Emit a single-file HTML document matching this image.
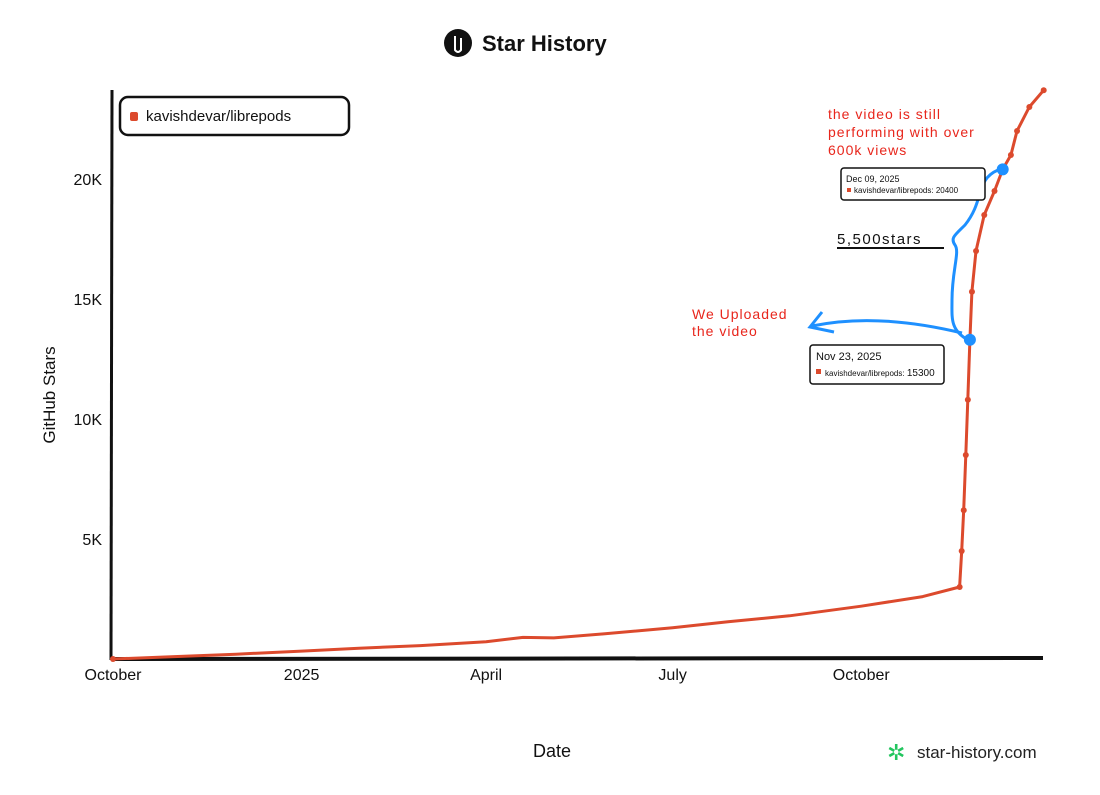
<!DOCTYPE html>
<html><head><meta charset="utf-8">
<style>
html,body{margin:0;padding:0;background:#fff;}
svg{display:block;font-family:"Liberation Sans",sans-serif;}
</style></head>
<body>
<svg id="chart" width="1100" height="795" viewBox="0 0 1100 795" xmlns="http://www.w3.org/2000/svg">
  <g>
    <circle cx="458" cy="43" r="14" fill="#111"/>
    <path d="M455 36 v14 q3 4 6 0 v-12" stroke="#fff" stroke-width="2" fill="none"/>
    <text x="482" y="51" font-size="22" font-weight="bold" fill="#111">Star History</text>
  </g>
  <g id="axes"></g>
  <g id="series"></g>
  <g>
    <rect x="120" y="97" width="229" height="38" rx="8" fill="#fff" stroke="#111" stroke-width="2.5"/>
    <rect x="130" y="112" width="8" height="9" rx="2" fill="#dc4a2d"/>
    <text x="146" y="121" font-size="15" fill="#111">kavishdevar/librepods</text>
  </g>
  <text transform="translate(55,395) rotate(-90)" text-anchor="middle" font-size="17" fill="#111">GitHub Stars</text>
  <text x="552" y="757" text-anchor="middle" font-size="18" fill="#111">Date</text>
  <g>
    <text x="887" y="760" font-size="22" fill="#22c55e">✲</text>
    <text x="917" y="758" font-size="17" fill="#222">star-history.com</text>
  </g>
  <g>
    <text x="828" y="119" font-size="14" fill="#e8261c" letter-spacing="1">the video is still</text>
    <text x="828" y="137" font-size="14" fill="#e8261c" letter-spacing="1">performing with over</text>
    <text x="828" y="155" font-size="14" fill="#e8261c" letter-spacing="1">600k views</text>
    <text x="692" y="319" font-size="14" fill="#e8261c" letter-spacing="1">We Uploaded</text>
    <text x="692" y="336" font-size="14" fill="#e8261c" letter-spacing="1">the video</text>
    <text x="837" y="244" font-size="15" fill="#111" letter-spacing="1.5">5,500stars</text>
    <line x1="837" y1="248" x2="944" y2="248" stroke="#111" stroke-width="2"/>
    <path d="M998 170 C975 180 985 200 965 225 C955 235 950 238 955 245 C960 252 952 270 952 300 C952 318 950 330 968 340" fill="none" stroke="#1e90ff" stroke-width="3"/>
    <path d="M962 333 C900 318 850 318 812 326 M822 312 L810 327 L834 332" fill="none" stroke="#1e90ff" stroke-width="3"/>
    <rect x="841" y="168" width="144" height="32" rx="3" fill="#fff" stroke="#111" stroke-width="1.5"/>
    <text x="846" y="182" font-size="9" fill="#111">Dec 09, 2025</text>
    <rect x="847" y="188" width="4" height="4" fill="#dc4a2d"/>
    <text x="854" y="193" font-size="8" fill="#111">kavishdevar/librepods: 20400</text>
    <rect x="810" y="345" width="134" height="39" rx="3" fill="#fff" stroke="#111" stroke-width="1.5"/>
    <text x="816" y="360" font-size="11" fill="#111">Nov 23, 2025</text>
    <rect x="816" y="369" width="5" height="5" fill="#dc4a2d"/>
    <text x="825" y="376" font-size="8" fill="#111">kavishdevar/librepods: <tspan font-size="10">15300</tspan></text>
  </g>
</svg>
<script>
const days = [0,30,60,92,120,150,182,200,215,240,273,300,330,365,395,413,414,415,416,417,418,419,421,425,430,434,438,441,447,454];
const stars = [0,100,200,330,450,560,720,900,880,1050,1300,1550,1800,2200,2600,3000,4500,6200,8500,10800,13300,15300,17000,18500,19500,20400,21000,22000,23000,23700];
const xTickLabels = ["October","2025","April","July","October"];
const xTickDays = [0,92,182,273,365];
const yTickLabels = ["5K","10K","15K","20K"];
const yTickValues = [5000,10000,15000,20000];
const highlightDays = [418,434];
const highlightStars = [13300,20400];

const NS="http://www.w3.org/2000/svg";
const x = d => 113 + d*2.05;
const y = v => 659 - v*0.024;
function mk(tag, attrs, parent){const e=document.createElementNS(NS,tag);for(const k in attrs)e.setAttribute(k,attrs[k]);parent.appendChild(e);return e;}
const axes=document.getElementById('axes'), series=document.getElementById('series');

const ya=mk('line',{x1:112,y1:90,x2:111,y2:660,stroke:'#111','stroke-width':3},axes);


const xa=mk('line',{x1:111,y1:659,x2:1043,y2:658,stroke:'#111','stroke-width':4},axes);



xTickLabels.forEach((l,i)=>{
  const t=mk('text',{x:x(xTickDays[i]),y:680,'text-anchor':'middle','font-size':16,fill:'#111'},axes);
  t.textContent=l;
  
  
});
yTickLabels.forEach((l,i)=>{
  const t=mk('text',{x:102,y:y(yTickValues[i])+6,'text-anchor':'end','font-size':16,fill:'#111'},axes);
  t.textContent=l;
  
  
});

const pts=days.map((d,i)=>x(d).toFixed(1)+','+y(stars[i]).toFixed(1)).join(' ');
const line=mk('polyline',{points:pts,fill:'none',stroke:'#dc4a2d','stroke-width':3,'stroke-linejoin':'round'},series);


days.forEach((d,i)=>{
  if(d<413 && d!==0) return;
  const c=mk('circle',{cx:x(d),cy:y(stars[i]),r:3,fill:'#dc4a2d'},series);
  
  
});
highlightDays.forEach((d,i)=>{
  const c=mk('circle',{cx:x(d),cy:y(highlightStars[i]),r:6,fill:'#1e90ff'},series);
  
  
});
</script>
</body></html>
